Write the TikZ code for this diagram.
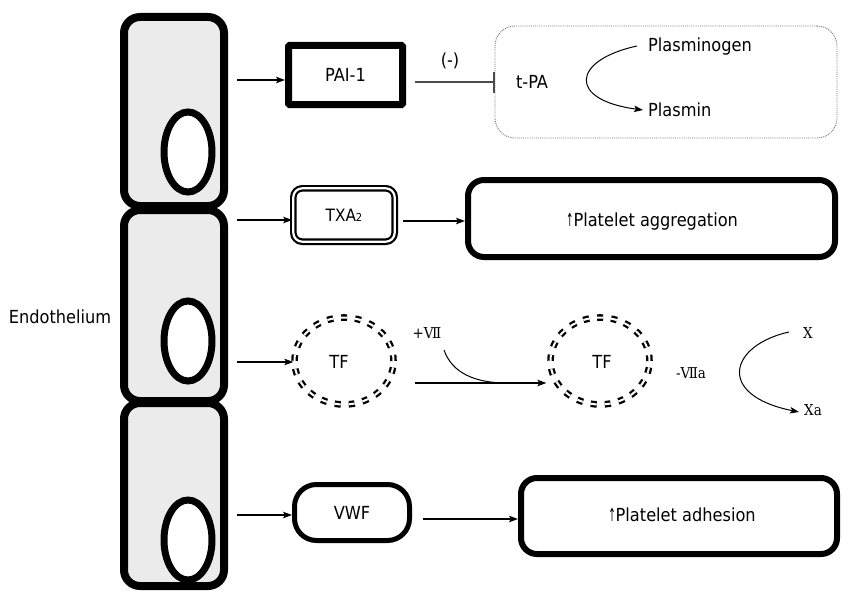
\documentclass[tikz,border=0pt]{standalone}
\usepackage{fontspec}
\setmainfont{DejaVu Sans Condensed}
\newfontfamily\romfont{DejaVu Serif Condensed}
\usetikzlibrary{arrows.meta,shapes.geometric}
\definecolor{cellgray}{HTML}{EBEBEB}
\begin{document}
\begin{tikzpicture}[x=1pt,y=-1pt,
  cellbox/.style={draw, line width=8pt, fill=cellgray, rounded corners=16pt, inner sep=0pt, minimum width=100pt},
  nucleus/.style={ellipse, draw, line width=7pt, fill=white, minimum width=48pt, minimum height=80pt, inner sep=0pt},
  arr/.style={-{Stealth[length=9pt,width=6.5pt,inset=2pt]}, line width=1.2pt},
  lbl/.style={font=\fontsize{18}{20}\selectfont, inner sep=1pt},
  roml/.style={font=\romfont\fontsize{15}{17}\selectfont, inner sep=1pt},
  tfring/.style={ellipse, draw, double, double distance=2pt, line width=2.3pt, dash pattern=on 6pt off 8pt, minimum width=99pt, minimum height=87pt, inner sep=0pt}
]
\useasboundingbox (0,0) rectangle (850,594);
% cells
\node[cellbox, minimum height=189pt] (c1) at (174,111.5) {};
\node[cellbox, minimum height=191pt] (c2) at (174,305.5) {};
\node[cellbox, minimum height=183pt] (c3) at (174,494.5) {};
\node[nucleus] (n1) at (188,152) {};
\node[nucleus] (n2) at (188,341) {};
\node[nucleus] (n3) at (188,540) {};
\node[lbl] (endo) at (60,317) {Endothelium};

% row 1
\node[draw, line width=7pt, minimum width=114pt, minimum height=59pt, inner sep=0pt, rounded corners=1pt, lbl] (pai) at (345.5,75) {PAI-1};
\node[draw, black!55, densely dotted, line width=0.9pt, rounded corners=20pt, minimum width=342pt, minimum height=112pt, inner sep=0pt] (tpabox) at (666,82) {};
\node[lbl] (tpa) at (532,82) {t-PA};
\node[lbl, anchor=west] (plg) at (647,47) {Plasminogen};
\node[lbl, anchor=west] (plm) at (647,110) {Plasmin};
\node[lbl] (minus) at (450,61) {(-)};
\coordinate (a1) at (237,80);
\draw[arr] (a1) -- (a1 -| pai.west);
\coordinate (b1) at (415,82);
\draw[black!70, line width=1.1pt, -{Bar[width=21pt,line width=1.1pt]}] (b1) -- (b1 -| tpabox.west);
\draw[arr, line width=1pt] ([xshift=-10pt,yshift=1pt]plg.west) .. controls (572,60) and (567,100) .. ([xshift=-4pt]plm.west);

% row 2
\node[draw, double, double distance=2.2pt, line width=2.2pt, rounded corners=9pt, minimum width=101.4pt, minimum height=53.4pt, inner sep=0pt, font=\fontsize{17}{19}\selectfont] (txa) at (344,215) {TXA{\fontsize{11}{11}\selectfont 2}};
\node[draw, line width=6pt, rounded corners=16pt, minimum width=367pt, minimum height=77pt, inner sep=0pt] (agg) at (651.5,218.5) {};
\node[lbl] (aggt) at (652,222) {\scalebox{0.55}[1]{↑}Platelet aggregation};
\coordinate (a2) at (237,220);
\draw[arr] (a2) -- (a2 -| txa.west);
\coordinate (b2) at (403,221);
\draw[arr] (b2) -- (b2 -| agg.west);

% row 3
\node[tfring] (tf1) at (344,361) {};
\node[lbl] (tf1t) at (339,362) {TF};
\node[tfring] (tf2) at (600,361) {};
\node[lbl] (tf2t) at (602,362) {TF};
\coordinate (a3) at (237,362);
\draw[arr] (a3) -- (a3 -| tf1.west);
\node[roml] (vii) at (427,333) {+Ⅶ};
\node[roml] (viia) at (691,373) {-Ⅶa};
\node[roml] (xx) at (808,333) {X};
\node[roml] (xa) at (813,410) {Xa};
\coordinate (tfa) at (415,383);
\coordinate (tfb) at ([xshift=-3pt]tf2.west);
\draw[arr] (tfa) -- (tfb |- tfa);
\coordinate (viis) at (444,350);
\coordinate (viie) at (507,383);
\draw[line width=1pt] (viis) .. controls (452,373) and (475,383) .. (viie);
\draw[arr, line width=1pt] ([xshift=-13pt,yshift=1pt]xx.west) .. controls (730,345) and (715,395) .. ([xshift=-4pt,yshift=-2pt]xa.west);

% row 4
\node[draw, line width=5pt, rounded corners=22pt, minimum width=115pt, minimum height=56pt, inner sep=0pt, lbl] (vwf) at (352,512.5) {VWF};
\node[draw, line width=6pt, rounded corners=16pt, minimum width=316pt, minimum height=76pt, inner sep=0pt] (adh) at (679,516) {};
\node[lbl] (adht) at (682,515) {\scalebox{0.55}[1]{↑}Platelet adhesion};
\coordinate (a4) at (237,515);
\draw[arr] (a4) -- (a4 -| vwf.west);
\coordinate (b4) at (423,519);
\draw[arr] (b4) -- (b4 -| adh.west);
\end{tikzpicture}
\end{document}
